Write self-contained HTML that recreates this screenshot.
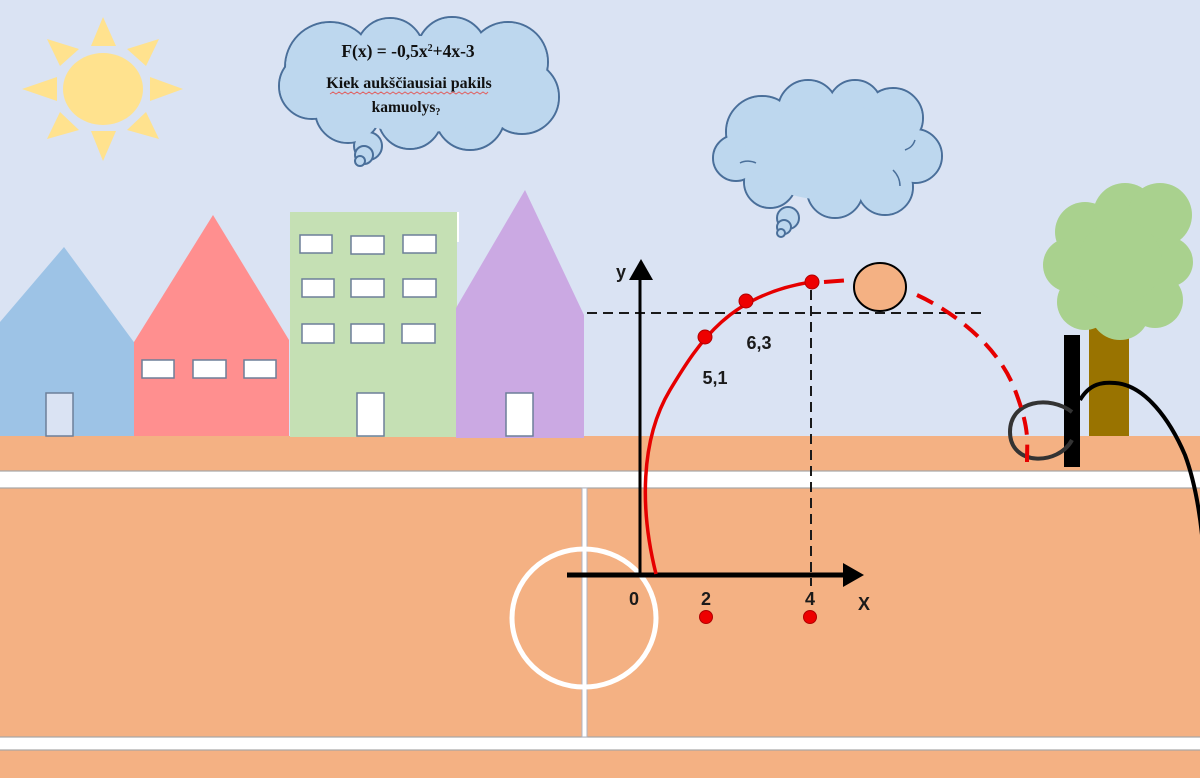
<!DOCTYPE html>
<html><head><meta charset="utf-8"><style>
html,body{margin:0;padding:0;background:#dae3f3;}
svg{display:block;}
</style></head><body>
<svg width="1200" height="778" viewBox="0 0 1200 778" xmlns="http://www.w3.org/2000/svg">
<rect x="0" y="0" width="1200" height="778" fill="#dae3f3"/>
<!-- ground -->
<rect x="0" y="436" width="1200" height="342" fill="#f4b183"/>
<rect x="-2" y="471" width="1204" height="17" fill="#ffffff" stroke="#a6a6a6" stroke-width="1.2"/>
<rect x="-2" y="737" width="1204" height="13" fill="#ffffff" stroke="#a6a6a6" stroke-width="1.2"/>
<rect x="582" y="488" width="5" height="249" fill="#ffffff" stroke="#b0b4c0" stroke-width="1"/>
<ellipse cx="584" cy="618" rx="72" ry="69" fill="none" stroke="#ffffff" stroke-width="5"/>

<!-- sun -->
<g fill="#ffe28e">
<ellipse cx="103" cy="89" rx="40" ry="36"/>
<polygon points="91,46 103,17 116,46"/>
<polygon points="91,131 103,161 116,131"/>
<polygon points="57,77 22,89 57,101"/>
<polygon points="150,77 183,89 150,101"/>
<polygon points="47,39 79,49 60,66"/>
<polygon points="159,39 127,49 146,66"/>
<polygon points="47,139 60,112 79,130"/>
<polygon points="159,139 146,112 127,130"/>
</g>

<!-- cloud 1 -->
<g stroke="#4a6f9a" stroke-width="2" fill="#bdd7ee">
<circle cx="330" cy="67" r="45"/>
<circle cx="390" cy="52" r="34"/>
<circle cx="452" cy="52" r="35"/>
<circle cx="508" cy="62" r="40"/>
<circle cx="522" cy="97" r="37"/>
<circle cx="470" cy="115" r="35"/>
<circle cx="410" cy="117" r="32"/>
<circle cx="348" cy="110" r="33"/>
<circle cx="312" cy="86" r="33"/>
<circle cx="368" cy="146" r="14"/>
<circle cx="364" cy="155" r="9"/>
<circle cx="360" cy="161" r="5"/>
</g>
<g fill="#bdd7ee">
<circle cx="330" cy="67" r="44"/>
<circle cx="390" cy="52" r="33"/>
<circle cx="452" cy="52" r="34"/>
<circle cx="508" cy="62" r="39"/>
<circle cx="522" cy="97" r="36"/>
<circle cx="470" cy="115" r="34"/>
<circle cx="410" cy="117" r="31"/>
<circle cx="348" cy="110" r="32"/>
<circle cx="312" cy="86" r="32"/>
<ellipse cx="420" cy="84" rx="110" ry="48"/>
</g>
<g font-family="'Liberation Serif', serif" font-weight="bold" fill="#111" text-anchor="middle">
<text x="408" y="57" font-size="17.5">F(x) = -0,5x<tspan font-size="10" dy="-6">2</tspan><tspan dy="6">+4x-3</tspan></text>
<text x="409" y="88" font-size="16">Kiek aukščiausiai pakils</text>
<text x="406" y="112" font-size="15.5">kamuolys<tspan font-size="10" dy="3">?</tspan></text>
</g>
<polyline points="330,94 333,92 336,94 339,92 342,94 345,92 348,94 351,92 354,94 357,92 360,94 363,92 366,94 369,92 372,94 375,92 378,94 381,92 384,94 387,92 390,94 393,92 396,94 399,92 402,94 405,92 408,94 411,92 414,94 417,92 420,94 423,92 426,94 429,92 432,94 435,92 438,94 441,92 444,94 447,92 450,94 453,92 456,94 459,92 462,94 465,92 468,94 471,92 474,94 477,92 480,94 483,92 486,94 488,92" fill="none" stroke="#e06060" stroke-width="1"/>

<!-- cloud 2 -->
<g stroke="#4a6f9a" stroke-width="2" fill="#bdd7ee">
<circle cx="762" cy="132" r="36"/>
<circle cx="736" cy="158" r="23"/>
<circle cx="808" cy="110" r="30"/>
<circle cx="855" cy="107" r="27"/>
<circle cx="893" cy="118" r="30"/>
<circle cx="915" cy="156" r="27"/>
<circle cx="885" cy="187" r="28"/>
<circle cx="835" cy="190" r="28"/>
<circle cx="770" cy="182" r="26"/>
<circle cx="788" cy="218" r="11"/>
<circle cx="784" cy="227" r="7"/>
<circle cx="781" cy="233" r="4"/>
</g>
<g fill="#bdd7ee">
<circle cx="762" cy="132" r="35"/>
<circle cx="736" cy="158" r="22"/>
<circle cx="808" cy="110" r="29"/>
<circle cx="855" cy="107" r="26"/>
<circle cx="893" cy="118" r="29"/>
<circle cx="915" cy="156" r="26"/>
<circle cx="885" cy="187" r="27"/>
<circle cx="835" cy="190" r="27"/>
<circle cx="770" cy="182" r="25"/>
<ellipse cx="830" cy="152" rx="85" ry="48"/>
</g>
<g fill="none" stroke="#4a6f9a" stroke-width="1.5">
<path d="M740,163 C745,160 752,161 756,163"/>
<path d="M905,150 C910,148 913,146 915,140"/>
<path d="M893,170 C898,175 900,180 900,186"/>
</g>

<!-- houses -->
<polygon points="0,322 64,247 136,345 136,436 0,436" fill="#9dc3e6"/>
<polygon points="134,342 213,215 289,340 289,436 134,436" fill="#ff8f8f"/>
<rect x="290" y="212" width="167" height="225" fill="#c5e0b4"/>
<rect x="457" y="212" width="2" height="30" fill="#ffffff"/>
<polygon points="456,308 525,190 584,315 584,438 456,438" fill="#cba9e3"/>
<g fill="#ffffff" stroke="#6d7f99" stroke-width="1.5">
<rect x="142" y="360" width="32" height="18"/>
<rect x="193" y="360" width="33" height="18"/>
<rect x="244" y="360" width="32" height="18"/>
<rect x="300" y="235" width="32" height="18"/>
<rect x="351" y="236" width="33" height="18"/>
<rect x="403" y="235" width="33" height="18"/>
<rect x="302" y="279" width="32" height="18"/>
<rect x="351" y="279" width="33" height="18"/>
<rect x="403" y="279" width="33" height="18"/>
<rect x="302" y="324" width="32" height="19"/>
<rect x="351" y="324" width="33" height="19"/>
<rect x="402" y="324" width="33" height="19"/>
<rect x="357" y="393" width="27" height="43"/>
<rect x="506" y="393" width="27" height="43"/>
<rect x="46" y="393" width="27" height="43" fill="#dae3f3"/>
</g>

<!-- tree -->
<rect x="1089" y="325" width="40" height="111" fill="#997300"/>
<g fill="#a9d18e">
<circle cx="1085" cy="232" r="30"/>
<circle cx="1125" cy="215" r="32"/>
<circle cx="1160" cy="215" r="32"/>
<circle cx="1168" cy="262" r="25"/>
<circle cx="1070" cy="265" r="27"/>
<circle cx="1085" cy="302" r="28"/>
<circle cx="1120" cy="310" r="30"/>
<circle cx="1155" cy="300" r="28"/>
<circle cx="1120" cy="262" r="42"/>
</g>
<rect x="1064" y="335" width="16" height="132" fill="#000"/>
<path d="M1072,412 C1050,395 1010,400 1010,432 C1010,466 1058,466 1072,440" fill="none" stroke="#333" stroke-width="4"/>
<path d="M1080,400 C1090,383 1103,382 1115,383 C1145,385 1170,420 1185,455 C1195,482 1200,512 1203,545" fill="none" stroke="#000" stroke-width="4"/>

<!-- dashed guides -->
<line x1="587" y1="313" x2="982" y2="313" stroke="#1a1a1a" stroke-width="2" stroke-dasharray="10,6"/>
<line x1="811" y1="290" x2="811" y2="586" stroke="#1a1a1a" stroke-width="2" stroke-dasharray="10,6"/>

<!-- axes -->
<line x1="567" y1="575" x2="846" y2="575" stroke="#000" stroke-width="5"/>
<polygon points="843,563 864,575 843,587" fill="#000"/>
<line x1="640" y1="576" x2="640" y2="276" stroke="#000" stroke-width="3"/>
<polygon points="629,280 641,259 653,280" fill="#000"/>

<!-- trajectory -->
<path d="M656,574 C640,510 640,440 670,390 S730,295 811,282" fill="none" stroke="#e60000" stroke-width="3.5"/>
<line x1="824" y1="282" x2="850" y2="280" stroke="#e60000" stroke-width="4" stroke-dasharray="20,10"/>
<path d="M917,295 C960,315 1000,350 1015,390 S1027,440 1027,462" fill="none" stroke="#e60000" stroke-width="4" stroke-dasharray="18,10"/>
<ellipse cx="880" cy="287" rx="26" ry="24" fill="#f4b183" stroke="#000" stroke-width="2"/>

<g fill="#ee0000" stroke="#b00000" stroke-width="1">
<circle cx="705" cy="337" r="7"/>
<circle cx="746" cy="301" r="7"/>
<circle cx="812" cy="282" r="7"/>
<circle cx="706" cy="617" r="6.5"/>
<circle cx="810" cy="617" r="6.5"/>
</g>

<!-- labels -->
<g font-family="'Liberation Sans', sans-serif" font-weight="bold" fill="#1a1a1a" font-size="18" text-anchor="middle">
<text x="621" y="278">y</text>
<text x="759" y="349">6,3</text>
<text x="715" y="384">5,1</text>
<text x="634" y="605">0</text>
<text x="706" y="605">2</text>
<text x="810" y="605">4</text>
<text x="864" y="610">X</text>
</g>
</svg>
</body></html>
